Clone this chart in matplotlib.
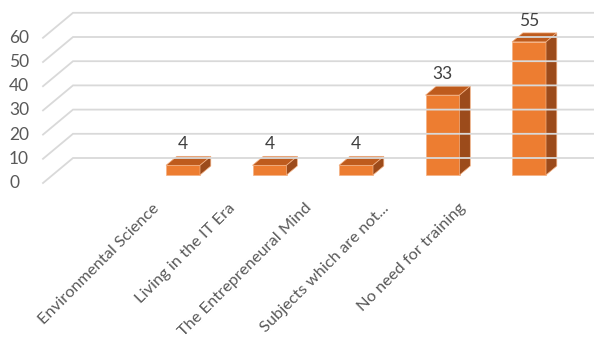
import matplotlib.pyplot as plt
from matplotlib.patches import Polygon

categories = ['Environmental Science', 'Living in the IT Era', 'The Entrepreneural Mind',
              'Subjects which are not...', 'No need for training']
values = [4, 4, 4, 33, 55]
yticks = [0, 10, 20, 30, 40, 50, 60]

plt.rcParams['font.family'] = ['Lato', 'DejaVu Sans']

W, H = 594, 347
PX_CAT = 86.5   # pixels per category
PX_VAL = 2.42   # pixels per value unit
X0, Y0 = 183, 175  # pixel of first category / value 0 (from top)


def depth(d):
    # oblique offset of d pixels into the depth direction
    return 1.2 * d / PX_CAT, d / PX_VAL


fig = plt.figure(figsize=(W / 100, H / 100), dpi=100)
ax = fig.add_axes([0, 0, 1, 1])
ax.set_xlim(-X0 / PX_CAT, (W - X0) / PX_CAT)
ax.set_ylim((Y0 - H) / PX_VAL, Y0 / PX_VAL)
ax.axis('off')

grid_c = '#d9d9d9'
wall_d, floor_d = 17, -8
wall_x = (73 - X0) / PX_CAT - depth(wall_d)[0]
xmax = ax.get_xlim()[1]
for v in yticks:
    bx, by = depth(wall_d)
    fx, fy = depth(floor_d)
    ax.plot([wall_x + fx, wall_x + bx, xmax], [v + fy, v + by, v + by],
            color=grid_c, lw=1.3, solid_joinstyle='miter')
    ax.text(ax.get_xlim()[0] + 9 / PX_CAT, v + fy, str(v), ha='left', va='center',
            fontsize=12.5, color='#595959')

bw = 34 / PX_CAT
bd = 9
dx, dy = depth(bd)
front_c, top_c, side_c = '#ED7D31', '#BE5B1D', '#9C4B1B'
for i, v in enumerate(values):
    l, r = i - bw / 2, i + bw / 2
    ax.add_patch(Polygon([(l, 0), (r, 0), (r, v), (l, v)], closed=True, fc=front_c,
                         ec='#f4b183', lw=0.5))
    ax.add_patch(Polygon([(l, v), (r, v), (r + dx, v + dy), (l + dx, v + dy)], closed=True,
                         fc=top_c, ec='#f4b183', lw=0.5))
    ax.add_patch(Polygon([(r, 0), (r + dx, dy), (r + dx, v + dy), (r, v)], closed=True,
                         fc=side_c, ec='#f4b183', lw=0.5))
    ax.text(i, v + 21 / PX_VAL, str(v), ha='center', va='center', fontsize=12.5,
            color='#404040')

lab_step = 76.5 / PX_CAT
for i, c in enumerate(categories):
    x = (152 - X0) / PX_CAT + i * lab_step
    ax.text(x, -26 / PX_VAL, c, rotation=45, rotation_mode='anchor', ha='right', va='top',
            fontsize=11.8, color='#595959')

fig.savefig('out.png', dpi=100)
